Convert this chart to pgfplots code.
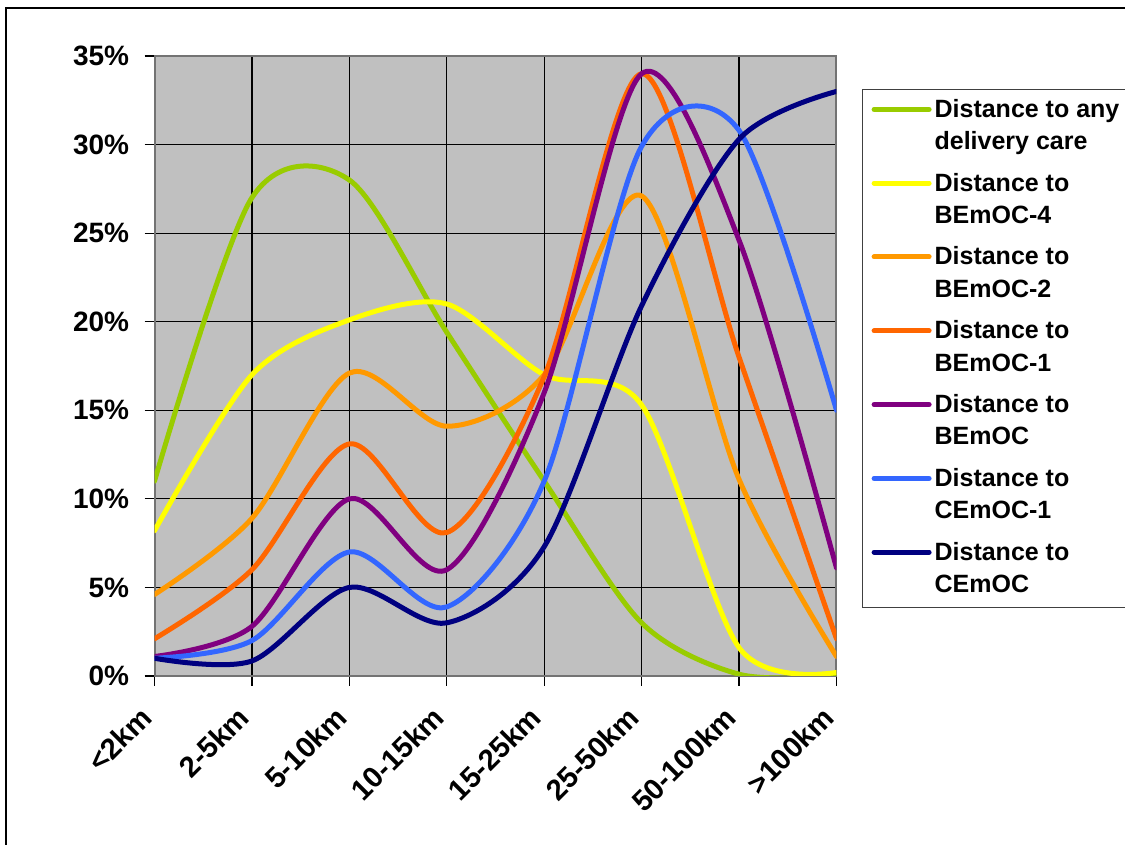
\documentclass[border=0pt]{standalone}
\usepackage{fontspec}
\setmainfont{Liberation Sans}
\usepackage{pgfplots}
\usepackage{pgfplotstable}
\pgfplotsset{compat=1.18}
\definecolor{cgreen}{HTML}{99CC00}
\definecolor{cyellow}{HTML}{FFFF00}
\definecolor{corange}{HTML}{FF9900}
\definecolor{cred}{HTML}{FF6600}
\definecolor{cpurple}{HTML}{800080}
\definecolor{cblue}{HTML}{3366FF}
\definecolor{cnavy}{HTML}{000080}
\definecolor{plotbg}{HTML}{C0C0C0}
\pgfplotstableread{
x any b4 b2 b1 b cm1 cm
0 11.0 8.2 4.6 2.1 1.1 1.0 1.0
1 27.0 17.0 8.9 6.0 2.8 2.0 0.85
2 28.0 20.1 17.1 13.1 10.0 7.0 5.0
3 19.4 21.0 14.1 8.1 6.0 3.9 3.0
4 11.0 17.0 17.0 16.9 16.0 11.0 7.3
5 3.0 15.3 27.1 34.0 34.0 29.9 20.9
6 0.1 1.6 11.1 18.0 24.6 30.8 30.3
7 0.0 0.2 1.1 2.1 6.1 15.0 33.0
}\datatable
\newcommand{\lent}[2]{\begin{tabular}[t]{@{}l@{}}#1\\#2\end{tabular}}
\begin{document}
\begin{tikzpicture}[x=1pt,y=1pt]
\path[use as bounding box] (0,0) rectangle (562.5,422.5);
\draw[line width=1pt] (3,-20) -- (3,418.5) -- (600,418.5);
\begin{axis}[
  at={(77.25pt,84.5pt)}, anchor=south west,
  scale only axis, width=341pt, height=310pt,
  xmin=0, xmax=7, ymin=0, ymax=35,
  xtick={0,...,7},
  xticklabels={<2km,2-5km,5-10km,10-15km,15-25km,25-50km,50-100km,>100km},
  ytick={0,5,...,35},
  yticklabels={0\%,5\%,10\%,15\%,20\%,25\%,30\%,35\%},
  xtick pos=bottom, ytick pos=left,
  tick align=outside, major tick length=5pt,
  tick style={black, line width=0.6pt},
  grid=major, major grid style={black, line width=0.6pt},
  axis line style={draw=black!55, line width=1pt},
  axis background/.style={fill=plotbg},
  yticklabel style={anchor=east, inner sep=0pt, font=\fontsize{14}{16}\selectfont\bfseries},
  yticklabel shift=7.5pt,
  xticklabel style={xshift=-4pt, rotate=45, anchor=east, inner sep=0pt, font=\fontsize{14.6}{16}\selectfont\bfseries},
  xticklabel shift=13pt,
  every axis plot/.append style={line width=2.5pt, line cap=round, line join=round, smooth, no markers},
  legend image code/.code={\draw[#1, line width=2.5pt] (0pt,8.8pt) -- (27.5pt,8.8pt);},
  legend cell align=left,
  legend style={at={(1.0374,0.9468)}, anchor=north west, draw=black!75, line width=0.6pt, fill=white,
    inner xsep=4.5pt, inner ysep=2.5pt, row sep=4.5pt, /tikz/column sep=1.5pt,
    font=\fontsize{12.5}{16.2}\selectfont\bfseries,
    nodes={inner sep=0pt, text height=11.34pt, text depth=21.06pt}},
]
\addplot[color=cgreen] table[x=x,y=any]{\datatable};
\addlegendentry{\lent{Distance to any}{delivery care}}
\addplot[color=cyellow] table[x=x,y=b4]{\datatable};
\addlegendentry{\lent{Distance to}{BEmOC-4}}
\addplot[color=corange] table[x=x,y=b2]{\datatable};
\addlegendentry{\lent{Distance to}{BEmOC-2}}
\addplot[color=cred] table[x=x,y=b1]{\datatable};
\addlegendentry{\lent{Distance to}{BEmOC-1}}
\addplot[color=cpurple] table[x=x,y=b]{\datatable};
\addlegendentry{\lent{Distance to}{BEmOC}}
\addplot[color=cblue] table[x=x,y=cm1]{\datatable};
\addlegendentry{\lent{Distance to}{CEmOC-1}}
\addplot[color=cnavy] table[x=x,y=cm]{\datatable};
\addlegendentry{\lent{Distance to}{CEmOC}}
\end{axis}
\end{tikzpicture}
\end{document}
